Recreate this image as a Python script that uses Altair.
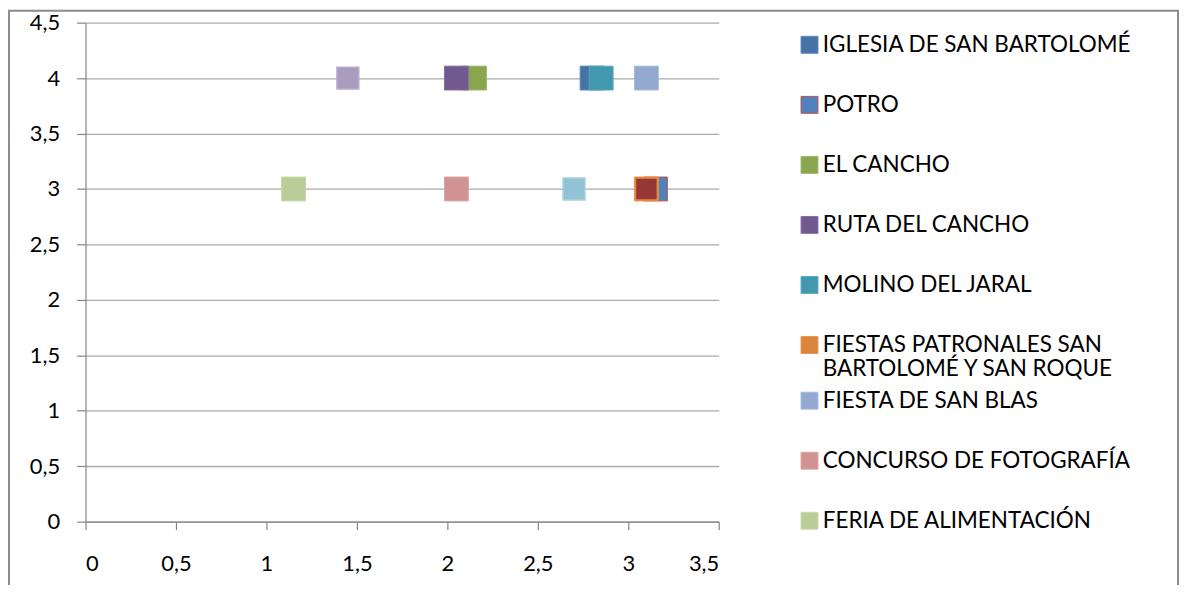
import altair as alt
import pandas as pd

# Series listed in the legend, in drawing / legend order
series = [
    "IGLESIA DE SAN BARTOLOMÉ",
    "POTRO",
    "EL CANCHO",
    "RUTA DEL CANCHO",
    "MOLINO DEL JARAL",
    "FIESTAS PATRONALES SAN BARTOLOMÉ Y SAN ROQUE",
    "FIESTA DE SAN BLAS",
    "CONCURSO DE FOTOGRAFÍA",
    "FERIA DE ALIMENTACIÓN",
]
x_values = [2.8, 3.15, 2.15, 2.05, 2.85, 3.1, 3.1, 2.05, 1.15]
y_values = [4, 3, 4, 4, 4, 3, 4, 3, 3]

# Further series plotted but not listed in the (truncated) legend
extra_series = ["Serie 10", "Serie 11", "Serie 12"]
extra_x = [1.45, 2.7, 3.1]
extra_y = [4, 3, 3]

fill_colors = ["#4572A7", "#4F81BD", "#89A54E", "#71588F", "#4198AF", "#DB843D",
               "#93A9CF", "#D19392", "#B9CD96"]
stroke_colors = ["#5A84B8", "#C0504D", "#9BB766", "#8570A3", "#58AAC0", "#E8944E",
                 "#A5B9DA", "#DBA3A2", "#C7D8A8"]
extra_fill = ["#A99BBD", "#92C3D4", "#953735"]
extra_stroke = ["#B8ACCB", "#A6D0DE", "#E8883A"]

df = pd.DataFrame({"serie": series, "x": x_values, "y": y_values, "orden": list(range(len(series)))})
df_extra = pd.DataFrame({"serie": extra_series, "x": extra_x, "y": extra_y,
                         "orden": list(range(len(extra_series)))})

SPLIT = 6  # legend column is drawn as two stacked blocks
df_a = df.iloc[:SPLIT]
df_b = df.iloc[SPLIT:]

FONT = "Lato"
GRAY = "#868686"

two_line = "FIESTAS PATRONALES SAN BARTOLOMÉ Y SAN ROQUE"
label_expr = (
    f"datum.label == '{two_line}' ? ['FIESTAS PATRONALES SAN', 'BARTOLOMÉ Y SAN ROQUE'] : datum.label"
)


def make_legend(legend_y):
    return alt.Legend(title=None, orient="none",
                      legendX=717, legendY=legend_y, symbolType="square",
                      symbolSize=289, symbolStrokeWidth=1, labelFont=FONT,
                      labelFontSize=22.6, labelColor="#000000", labelLimit=400,
                      rowPadding=37.4, labelOffset=2, labelExpr=label_expr)


x_scale = alt.Scale(domain=[0, 3.5], nice=False, zero=False)
y_scale = alt.Scale(domain=[0, 4.5], nice=False, zero=False)

x_enc = alt.X("x:Q", scale=x_scale,
              axis=alt.Axis(values=[0, 0.5, 1, 1.5, 2, 2.5, 3, 3.5], grid=False, title=None,
                            labelExpr="replace(toString(datum.value), '.', ',')",
                            tickSize=8, labelPadding=24))
y_enc = alt.Y("y:Q", scale=y_scale,
              axis=alt.Axis(values=[0, 0.5, 1, 1.5, 2, 2.5, 3, 3.5, 4, 4.5], grid=True, title=None,
                            labelExpr="replace(toString(datum.value), '.', ',')",
                            tickSize=9, labelPadding=17))

points_a = alt.Chart(df_a).mark_point(shape="square", filled=True, opacity=1, strokeWidth=1, size=576).encode(
    x=x_enc,
    y=y_enc,
    fill=alt.Fill("serie:N", scale=alt.Scale(domain=series[:SPLIT], range=fill_colors[:SPLIT]),
                  legend=make_legend(11)),
    stroke=alt.Stroke("serie:N", scale=alt.Scale(domain=series[:SPLIT], range=stroke_colors[:SPLIT]),
                      legend=make_legend(11)),
    order=alt.Order("orden:Q"),
)

points_b = alt.Chart(df_b).mark_point(shape="square", filled=True, opacity=1, strokeWidth=1, size=576).encode(
    x=alt.X("x:Q", scale=x_scale),
    y=alt.Y("y:Q", scale=y_scale),
    fill=alt.Fill("serie:N", scale=alt.Scale(domain=series[SPLIT:], range=fill_colors[SPLIT:]),
                  legend=make_legend(369)),
    stroke=alt.Stroke("serie:N", scale=alt.Scale(domain=series[SPLIT:], range=stroke_colors[SPLIT:]),
                      legend=make_legend(369)),
    order=alt.Order("orden:Q"),
)

extra_points = alt.Chart(df_extra).mark_point(shape="square", filled=True, opacity=1, strokeWidth=1.5,
                                              size=484).encode(
    x=alt.X("x:Q", scale=x_scale),
    y=alt.Y("y:Q", scale=y_scale),
    fill=alt.Fill("serie:N", scale=alt.Scale(domain=extra_series, range=extra_fill), legend=None),
    stroke=alt.Stroke("serie:N", scale=alt.Scale(domain=extra_series, range=extra_stroke), legend=None),
    order=alt.Order("orden:Q"),
)

frame = alt.Chart(alt.Data(values=[{}])).mark_rect(
    fill=None, stroke="#8C8C8C", strokeWidth=2
).encode(
    x=alt.value(-77), x2=alt.value(1099), y=alt.value(-12), y2=alt.value(640)
)

chart = alt.layer(points_a, points_b, extra_points, frame).resolve_scale(
    fill="independent", stroke="independent"
).properties(
    width=637, height=502,
    autosize=alt.AutoSizeParams(type="none"),
    padding={"left": 78, "top": 13, "right": 463, "bottom": 62},
).configure_view(stroke=None).configure_axis(
    domainColor=GRAY, tickColor=GRAY, gridColor="#ABABAB", gridWidth=1.3,
    labelFont=FONT, labelFontSize=22, labelColor="#000000", domainWidth=1.2, tickWidth=1.2,
)

chart.save("out.html", embed_options={"renderer": "svg", "actions": False})
